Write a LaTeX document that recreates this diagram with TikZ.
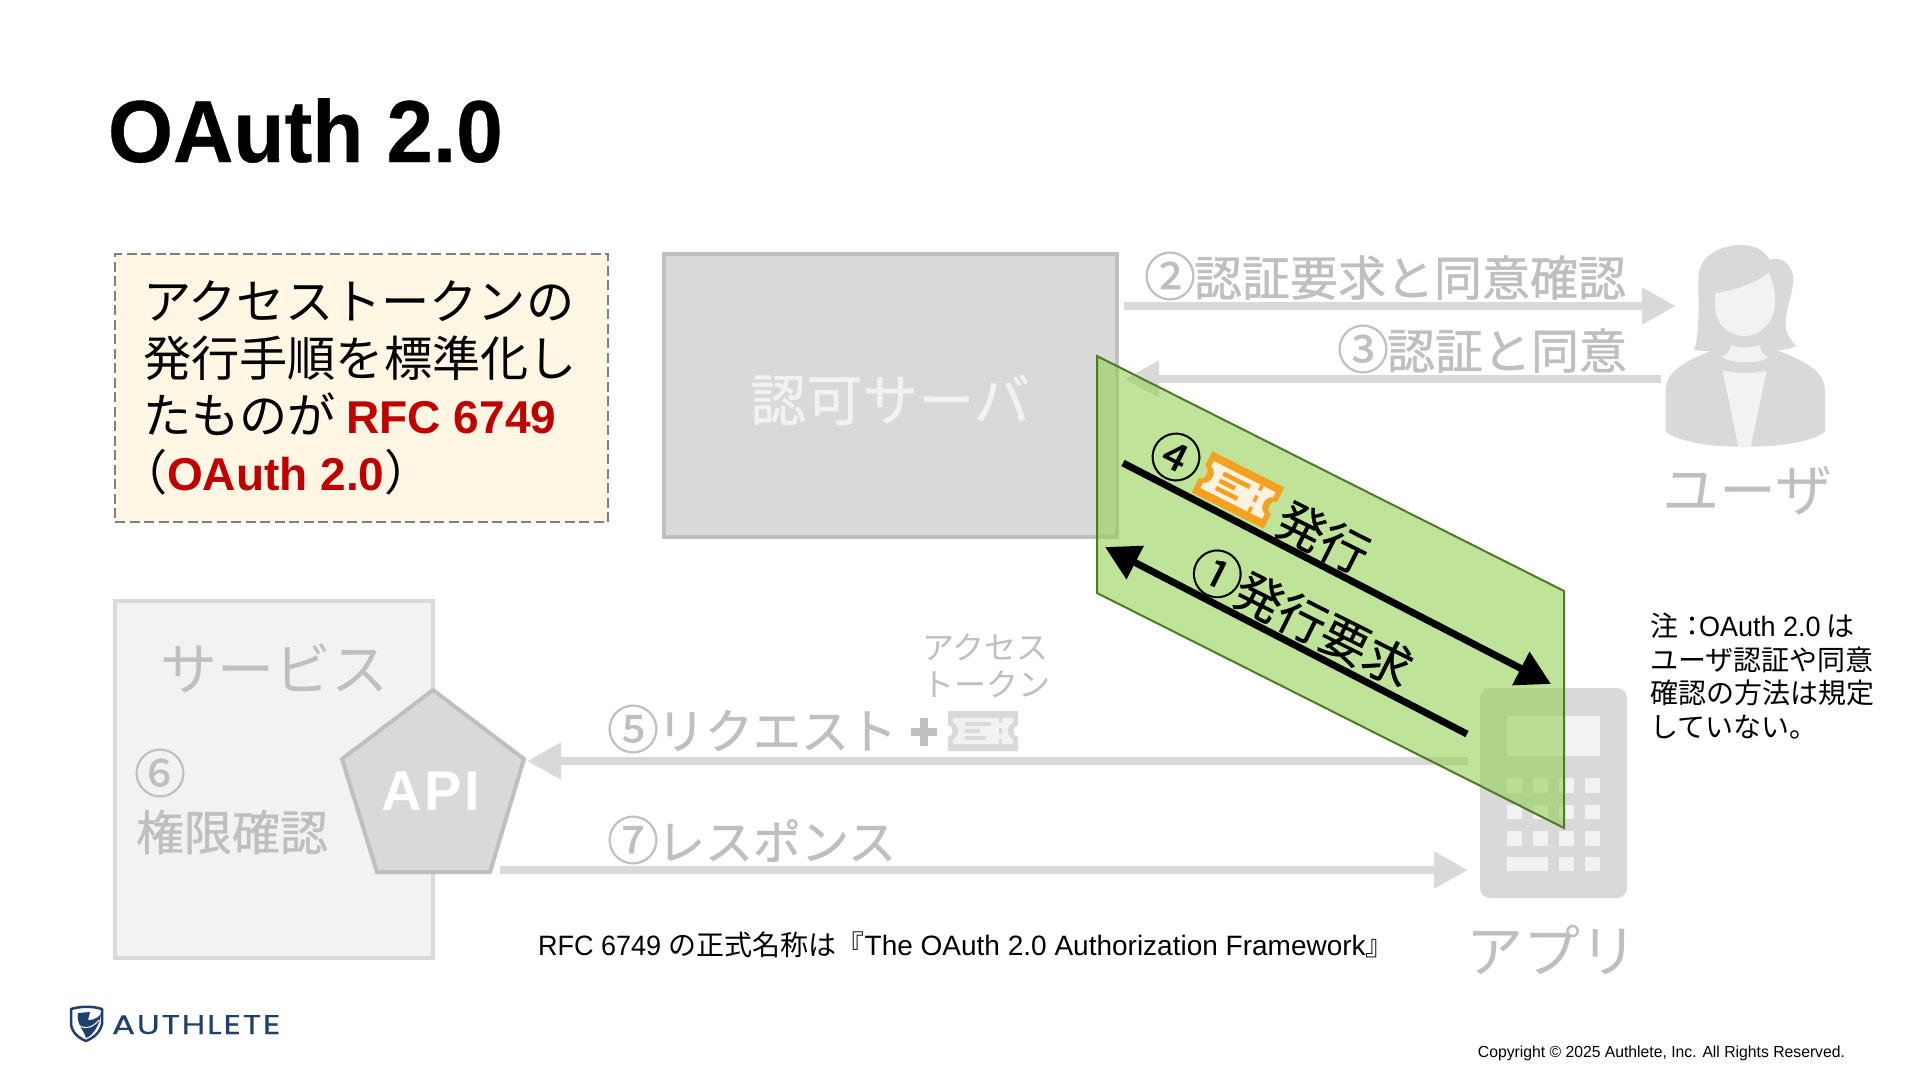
\documentclass[tikz,border=0pt]{standalone}
\usepackage{fontspec}
\usetikzlibrary{arrows.meta,calc}
\setmainfont{Liberation Sans}
\newfontfamily\ja{Noto Sans CJK JP}
\newfontfamily\jam[FakeBold=0.9]{Noto Sans CJK JP}
\newfontfamily\jan[FakeBold=0.5]{Noto Sans CJK JP}
\newfontfamily\titlefont[FakeStretch=0.95,BoldFeatures={FakeBold=0.4}]{Liberation Sans}
\newfontfamily\logofont[LetterSpace=6,FakeStretch=1.27,FakeBold=0.3]{Poppins}
\newfontfamily\apifont[LetterSpace=5,FakeStretch=1.0]{Liberation Sans}
\newfontfamily\latinf[FakeStretch=0.965]{Liberation Sans}
\newfontfamily\smallf[FakeStretch=0.983]{Liberation Sans}
\definecolor{boxfill}{HTML}{D9D9D9}
\definecolor{boxline}{HTML}{BFBFBF}
\definecolor{lightfill}{HTML}{F2F2F2}
\definecolor{rfcred}{HTML}{C00000}
\definecolor{calloutfill}{HTML}{FFF6E4}
\definecolor{calloutline}{HTML}{7F7F7F}
\definecolor{leaf}{HTML}{92D050}
\definecolor{leafline}{HTML}{4F7A28}
\definecolor{navy}{HTML}{1F3F6E}
\definecolor{tickor}{HTML}{F5A01E}
\definecolor{tickin}{HTML}{FDF1E0}
\newcommand{\fs}[2]{\fontsize{#1}{#2}\selectfont}
\newcommand{\cnum}[1]{\makebox[48pt][c]{\fs{52}{56}#1}}
\tikzset{
  lbl/.style={inner sep=0pt,outer sep=0pt},
  greytxt/.style={lbl,text=boxline,font=\jam\fs{48}{56}},
  bigtxt/.style={lbl,text=boxline,font=\ja\fs{57}{60}},
  blacktxt/.style={lbl,text=black,font=\jan\fs{48}{56},rotate=-26.7},
  grar/.style={draw=boxfill,line width=8pt,-{Triangle[length=34pt,width=35pt]}},
  blkar/.style={draw=black,line width=7pt,-{Triangle[length=34pt,width=36pt]}},
  pics/ticket/.style 2 args={code={
    \fill[#1] (-35,-20)--(35,-20)--(35,-6) .. controls (29,-6) and (29,6) .. (35,6)--(35,20)--(-35,20)--(-35,6) .. controls (-29,6) and (-29,-6) .. (-35,-6)--cycle;
    \fill[#2] (-30,-13)--(30,-13)--(30,-8) .. controls (23,-6) and (23,6) .. (30,8)--(30,13)--(-30,13)--(-30,8) .. controls (-23,6) and (-23,-6) .. (-30,-8)--cycle;
    \fill[#1] (-18,-9) rectangle (8,-5);
    \fill[#1] (-18,-2) rectangle (-3,2);
    \fill[#1] (-18,5) rectangle (3,9);
    \fill[#1] (15.5,-13) rectangle (18.5,-8);
    \fill[#1] (15.5,-3) rectangle (18.5,3);
    \fill[#1] (15.5,8) rectangle (18.5,13);
  }},
}
\begin{document}
\begin{tikzpicture}[x=1pt,y=-1pt]
\useasboundingbox (0,0) rectangle (1920,1080);
\fill[white] (0,0) rectangle (1920,1080);

% title
\node[lbl,anchor=base west,font=\titlefont\bfseries\fs{88}{90}] (title) at (108,162) {OAuth 2.0};

% callout
\node[lbl,draw=calloutline,fill=calloutfill,line width=2.6pt,dash pattern=on 10pt off 4.5pt,minimum width=493pt,minimum height=268pt,anchor=north west] (callout) at (115,254) {};
\node[lbl,anchor=north west,align=left,font=\ja\fs{48.2}{57}] (callouttext) at (143,281) {アクセストークンの\\発行手順を標準化し\\たものが {\rmfamily\bfseries\fs{46}{57}\color{rfcred}RFC 6749}\\\hspace*{-24pt}（{\rmfamily\bfseries\fs{46}{57}\color{rfcred}OAuth 2.0}）};

% authorization server
\node[lbl,draw=boxline,fill=boxfill,line width=4pt,minimum width=453pt,minimum height=283pt,anchor=north west] (authz) at (664,254) {};
\node[lbl,text=lightfill,font=\jam\fs{56}{60}] (authzlabel) at (890,400) {認可サーバ};

% service
\node[lbl,draw=boxfill,fill=lightfill,line width=3.5pt,minimum width=318pt,minimum height=357pt,anchor=north west] (service) at (115,601) {};
\node[bigtxt] (servicelabel) at (274,668) {サービス};
\node[greytxt] (six) at (160,773) {\cnum{⑥}};
\node[greytxt] (perm) at (232,832) {権限確認};

% API pentagon
\draw[draw=boxline,fill=boxfill,line width=4pt,line join=miter] (433,690)--(524,759)--(490,872)--(377,872)--(342,759)--cycle;
\node[lbl,text=white,font=\apifont\bfseries\fs{56}{60}] (api) at (431,791) {API};

% user icon
\begin{scope}[shift={(1600,220)},x=0.3333pt,y=-0.3333pt]
\fill[boxfill] (197,635) -- (197,510) .. controls (200,440) and (280,415) .. (370,378) -- (500,378) .. controls (590,415) and (672,440) .. (675,510) -- (675,635) .. controls (640,665) and (540,680) .. (452,680) -- (415,680) .. controls (330,680) and (235,665) .. (197,635) -- cycle;
\fill[boxfill] (282,390) .. controls (300,340) and (295,260) .. (295,170) .. controls (300,100) and (370,75) .. (425,75) .. controls (470,75) and (495,95) .. (510,120) .. controls (545,105) and (580,135) .. (580,180) .. controls (575,240) and (555,270) .. (557,320) .. controls (560,345) and (575,365) .. (588,378) .. controls (565,390) and (530,395) .. (500,385) -- (370,385) .. controls (340,395) and (310,395) .. (282,390) -- cycle;
\fill[lightfill] (345,220) .. controls (400,212) and (470,190) .. (505,158) .. controls (522,190) and (527,220) .. (525,255) .. controls (520,310) and (480,348) .. (432,348) .. controls (385,348) and (345,310) .. (345,255) -- cycle;
\fill[lightfill] (365,410) .. controls (380,405) and (392,392) .. (392,375) .. controls (420,385) and (450,385) .. (480,375) .. controls (480,392) and (490,405) .. (505,412) .. controls (480,432) and (390,432) .. (365,410) -- cycle;
\fill[lightfill] (368,452) .. controls (410,462) and (460,462) .. (500,452) -- (452,680) -- (415,680) -- cycle;
\end{scope}
\node[bigtxt] (userlabel) at (1747,491) {ユーザ};

% app icon
\node[lbl,fill=boxfill,rounded corners=10pt,minimum width=147pt,minimum height=210pt,anchor=north west] (app) at (1480,688) {};
\fill[lightfill] (1507,716) rectangle (1600,756);
\foreach \yy in {778,804.5,831} {\foreach \xx in {1507,1533,1559,1585} {\fill[lightfill] (\xx,\yy) rectangle ++(15,14.5);}}
\fill[lightfill] (1507,857) rectangle (1548,871);
\fill[lightfill] (1559,857) rectangle (1574,871);
\fill[lightfill] (1585,857) rectangle (1600,871);
\node[bigtxt] (applabel) at (1552,950) {アプリ};

% grey arrows and labels
\coordinate (a2s) at (1124,306); \coordinate (a2e) at (1676,306);
\draw[grar] (a2s) -- (a2e);
\coordinate (a3s) at (1661,379); \coordinate (a3e) at (1125,379);
\draw[grar] (a3s) -- (a3e);
\coordinate (a5s) at (1468,761); \coordinate (a5e) at (527,761);
\draw[grar] (a5s) -- (a5e);
\coordinate (a7s) at (500,870); \coordinate (a7e) at (1468,870);
\draw[grar] (a7s) -- (a7e);
\node[greytxt,anchor=west] (l2) at (1146,276) {\cnum{②}認証要求と同意確認};
\node[greytxt,anchor=east] (l3) at (1627,349) {\cnum{③}認証と同意};
\node[greytxt,anchor=west] (l5) at (609,729) {\cnum{⑤}リクエスト};
\node[greytxt,anchor=west] (l7) at (609,840) {\cnum{⑦}レスポンス};
\node[lbl,text=boxline,align=left,font=\ja\fs{32}{37}] (tokenlabel) at (986,666) {アクセス\\トークン};
\fill[boxline] (911,728) rectangle (937,736);
\fill[boxline] (920,718) rectangle (928,746);
\pic[] (greyticket) at (983,731) {ticket={boxfill}{lightfill}};

% green band
\fill[leaf,fill opacity=0.58] (1097,356)--(1564,591)--(1564,828)--(1097,593)--cycle;
\draw[leafline,line width=2pt] (1097,356)--(1564,591)--(1564,828)--(1097,593)--cycle;
\coordinate (a4s) at (1123,463); \coordinate (a4e) at (1551,684);
\draw[blkar] (a4s) -- (a4e);
\coordinate (a1s) at (1467,734); \coordinate (a1e) at (1105,547);
\draw[blkar] (a1s) -- (a1e);
\node[blacktxt] (four) at (1176,457) {\cnum{④}};
\pic[rotate=-26.7,scale=1.15] (orangeticket) at (1238,490) {ticket={tickor}{tickin}};
\node[blacktxt] (issue) at (1323,537) {発行};
\node[blacktxt] (req) at (1303,617) {\cnum{①}発行要求};

% note and footer
\node[lbl,anchor=north west,align=left,font=\ja\fs{28}{33.5}] (note) at (1650,613) {注：\kern-7pt{\latinf OAuth 2.0} は\\ユーザ認証や同意\\確認の方法は規定\\していない。};
\node[lbl,anchor=base west,font=\latinf\fs{28}{32}] (rfcname) at (538,955) {RFC 6749 {\ja の正式名称は『}{\rmfamily The OAuth 2.0 Authorization Framework}{\ja 』}};
\node[lbl,anchor=base east,font=\smallf\fs{16}{18}] (copy) at (1845,1057) {Copyright © 2025 Authlete, Inc. All Rights Reserved.};

% logo
\draw[navy,line width=2.5pt,line join=round] (71,1009) .. controls (82,1006) and (92,1006) .. (102,1009) -- (102,1024) .. controls (100,1033) and (93,1038) .. (86,1041) .. controls (79,1038) and (72,1033) .. (71,1024) -- cycle;
\fill[navy] (78,1013) -- (90,1012) -- (88,1020) .. controls (96,1020) and (100,1016) .. (101,1013) .. controls (100,1026) and (92,1036) .. (86,1038) .. controls (84,1030) and (76,1024) .. (78,1013) -- cycle;
\draw[white,line width=1pt] (80,1026) .. controls (88,1030) and (94,1026) .. (99,1020);
\node[lbl,anchor=base west,text=navy,font=\logofont\fs{27}{30}] (logo) at (112,1034) {AUTHLETE};
\end{tikzpicture}
\end{document}
